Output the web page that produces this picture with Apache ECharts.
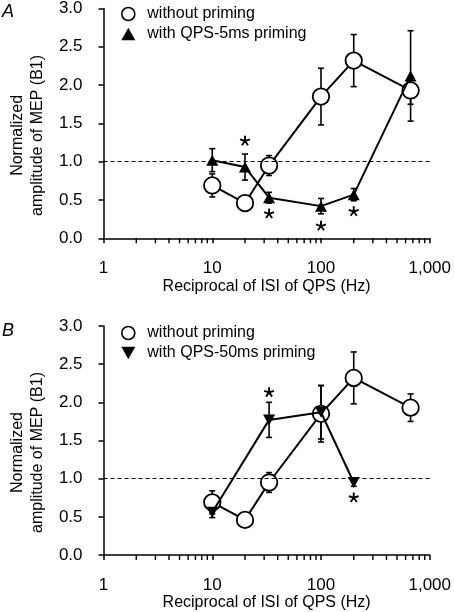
<!DOCTYPE html>
<html><head><meta charset="utf-8">
<script src="https://cdn.jsdelivr.net/npm/echarts@6/dist/echarts.min.js"></script>
<style>html,body{margin:0;padding:0;background:#fff}#c{width:454px;height:612px}</style>
</head><body><div id="c"></div>
<script>
// ---- data ----
const freq = [10, 20, 33.3, 100, 200, 666.7];            // reciprocal of ISI (Hz)
const withoutMean = [0.69, 0.46, 0.95, 1.85, 2.32, 1.93];
const withoutSE   = [0.15, 0.03, 0.13, 0.37, 0.34, 0.18];

const qps5Freq = [10, 20, 33.3, 100, 200, 666.7];
const qps5Mean = [1.02, 0.93, 0.53, 0.42, 0.57, 2.12];
const qps5SE   = [0.15, 0.17, 0.07, 0.10, 0.08, 0.59];
const qps5StarFreq = [20, 33.3, 100, 200];
const qps5StarY    = [1.27, 0.32, 0.16, 0.35];

const qps50Freq = [10, 33.3, 100, 200];
const qps50Mean = [0.56, 1.77, 1.87, 0.95];
const qps50SE   = [0.07, 0.23, 0.35, 0.05];
const qps50StarFreq = [33.3, 200];
const qps50StarY    = [2.13, 0.75];

const xTickLabels = {1: '1', 10: '10', 100: '100', 1000: '1,000'};
const minorTickValues = [2,3,4,5,6,7,8,9,20,30,40,50,60,70,80,90,200,300,400,500,600,700,800,900];
const seriesNames = ['without priming', 'with QPS-5ms priming', 'with QPS-50ms priming'];
const xName = 'Reciprocal of ISI of QPS (Hz)';
const yName = 'Normalized\namplitude of MEP (B1)';
const panelLabels = ['A', 'B'];

// ---- styling / build ----
const FONT = 'Liberation Sans';
const FS = 16;
const zip3 = (a, b, c) => a.map((v, i) => [v, b[i], c[i]]);
const zip2 = (a, b) => a.map((v, i) => [v, b[i]]);
const upTri = 'path://M5,0L10,9L0,9Z';
const downTri = 'path://M0,0L10,0L5,9Z';
const ST = {stroke: '#000', lineWidth: 1.6};

function errRender(params, api) {
  const x = api.value(0), m = api.value(1), s = api.value(2);
  const top = api.coord([x, m + s]);
  const bot = api.coord([x, m - s]);
  const cw = 3;
  return {type: 'group', children: [
    {type: 'line', shape: {x1: top[0], y1: top[1], x2: bot[0], y2: bot[1]}, style: ST},
    {type: 'line', shape: {x1: top[0] - cw, y1: top[1], x2: top[0] + cw, y2: top[1]}, style: ST},
    {type: 'line', shape: {x1: bot[0] - cw, y1: bot[1], x2: bot[0] + cw, y2: bot[1]}, style: ST}
  ]};
}
function starRender(params, api) {
  const p = api.coord([api.value(0), api.value(1)]);
  const r = 5.2;
  const arms = [-90, -18, 198, 54, 126];
  const st = {stroke: '#000', lineWidth: 1.9};
  return {type: 'group', children: arms.map(a => {
    const t = a * Math.PI / 180;
    return {type: 'line', shape: {x1: p[0], y1: p[1], x2: p[0] + r * Math.cos(t), y2: p[1] + r * Math.sin(t)}, style: st};
  })};
}

const grids = [
  {left: 96, top: 6.7, width: 337.3, height: 231.6},
  {left: 96, top: 326, width: 337.3, height: 232.3}
];

function xAxisFor(i) {
  return {
    type: 'log', logBase: 10, min: 1, max: 1000, gridIndex: i,
    name: xName, nameLocation: 'middle', nameGap: 40,
    nameTextStyle: {fontFamily: FONT, fontSize: FS, color: '#000'},
    axisLine: {lineStyle: {color: '#000', width: 1.5}},
    axisTick: {show: true, inside: false, length: 5, lineStyle: {color: '#000', width: 1.5}},
    axisLabel: {fontFamily: FONT, fontSize: 17, color: '#000', margin: 22,
      formatter: v => xTickLabels[Math.round(v)] || ''},
    splitLine: {show: false}
  };
}
function yAxisFor(i) {
  return {
    type: 'value', min: 0, max: 3, interval: 0.5, gridIndex: i,
    name: yName, nameLocation: 'middle', nameGap: 47, nameRotate: 90,
    nameTextStyle: {fontFamily: FONT, fontSize: FS, color: '#000', lineHeight: 20, padding: [0, 24, 0, 0]},
    axisLine: {show: true, lineStyle: {color: '#000', width: 1.5}},
    axisTick: {show: true, inside: false, length: 5, lineStyle: {color: '#000', width: 1.5}},
    axisLabel: {fontFamily: FONT, fontSize: 17, color: '#000', margin: 21, formatter: v => v.toFixed(1)},
    splitLine: {show: false}
  };
}

const series = [];
function addPanel(i, trFreq, trMean, trSE, trSymbol, trName, starF, starY) {
  series.push({type: 'custom', xAxisIndex: i, yAxisIndex: i, renderItem: errRender, z: 2,
    encode: {x: 0, y: 1}, data: zip3(freq, withoutMean, withoutSE)});
  series.push({type: 'custom', xAxisIndex: i, yAxisIndex: i, renderItem: errRender, z: 2,
    encode: {x: 0, y: 1}, data: zip3(trFreq, trMean, trSE)});
  series.push({type: 'line', name: seriesNames[0], xAxisIndex: i, yAxisIndex: i, z: 3,
    symbol: 'circle', symbolSize: 16.5, showAllSymbol: true,
    lineStyle: {color: '#000', width: 2},
    itemStyle: {color: '#fff', borderColor: '#000', borderWidth: 1.8},
    data: zip2(freq, withoutMean),
    markLine: {silent: true, symbol: 'none', label: {show: false},
      lineStyle: {color: '#000', width: 1.1, type: [4, 3]}, data: [{yAxis: 1}]}
  });
  series.push({type: 'line', name: trName, xAxisIndex: i, yAxisIndex: i, z: 4,
    symbol: trSymbol, symbolSize: [12, 11], showAllSymbol: true,
    lineStyle: {color: '#000', width: 2},
    itemStyle: {color: '#000', borderColor: '#000', borderWidth: 0},
    data: zip2(trFreq, trMean)});
  series.push({type: 'custom', xAxisIndex: i, yAxisIndex: i, renderItem: starRender, z: 5,
    encode: {x: 0, y: 1}, data: zip2(starF, starY)});
}
addPanel(0, qps5Freq, qps5Mean, qps5SE, upTri, seriesNames[1], qps5StarFreq, qps5StarY);
addPanel(1, qps50Freq, qps50Mean, qps50SE, downTri, seriesNames[2], qps50StarFreq, qps50StarY);

function legendFor(top, trName, trIcon) {
  return {
    orient: 'vertical', left: 116, top: top, itemWidth: 14, itemHeight: 13, itemGap: 4,
    selectedMode: false,
    textStyle: {fontFamily: FONT, fontSize: FS, color: '#000', padding: [0, 0, 0, 7]},
    data: [
      {name: seriesNames[0], icon: 'circle', itemStyle: {color: '#fff', borderColor: '#000', borderWidth: 1.6}},
      {name: trName, icon: trIcon, itemStyle: {color: '#000', borderWidth: 0}}
    ]
  };
}

const baseGraphic = [
  {id: 'labA', type: 'text', left: 2, top: 3, style: {text: panelLabels[0], font: 'italic 18px ' + FONT, fill: '#000'}},
  {id: 'labB', type: 'text', left: 2, top: 322, style: {text: panelLabels[1], font: 'italic 18px ' + FONT, fill: '#000'}}
];

const option = {
  animation: false,
  backgroundColor: '#fff',
  grid: grids,
  xAxis: [xAxisFor(0), xAxisFor(1)],
  yAxis: [yAxisFor(0), yAxisFor(1)],
  legend: [legendFor(1, seriesNames[1], upTri), legendFor(320, seriesNames[2], downTri)],
  graphic: baseGraphic,
  series: series
};
const chart = echarts.init(document.getElementById('c'), null, {renderer: 'canvas'});
chart.setOption(option);

// minor ticks of the log x axes, placed through the chart's own axis scales
const tickGraphics = [];
[0, 1].forEach(g => {
  minorTickValues.forEach((v, k) => {
    const p = chart.convertToPixel({xAxisIndex: g, yAxisIndex: g}, [v, 0]);
    if (p && isFinite(p[0]) && isFinite(p[1])) {
      tickGraphics.push({id: 'mt' + g + '_' + k, type: 'line', z: 100,
        shape: {x1: p[0], y1: p[1], x2: p[0], y2: p[1] + 5},
        style: {stroke: '#000', lineWidth: 1.4}});
    }
  });
});
chart.setOption({graphic: baseGraphic.concat(tickGraphics)});
</script></body></html>
